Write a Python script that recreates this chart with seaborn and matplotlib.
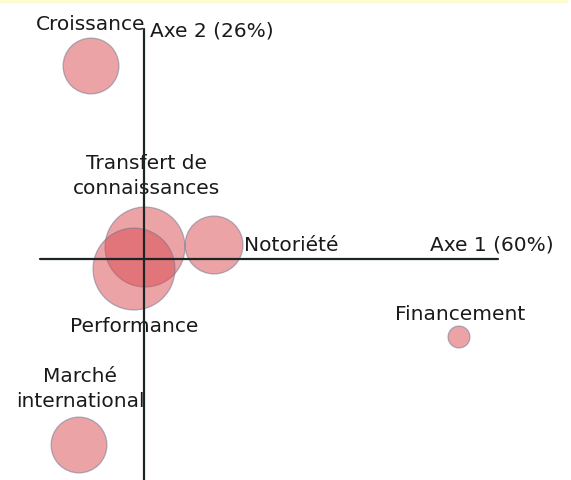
"""
Carte factorielle : position des objectifs sur les axes 1 et 2, taille des bulles = poids.
"""

import pandas as pd
import seaborn as sns
import matplotlib.pyplot as plt
from matplotlib.patches import Rectangle

# Données
objectifs = ['Croissance', 'Transfert de\nconnaissances', 'Notoriété',
             'Financement', 'Performance', 'Marché\ninternational']
axe1 = [-0.53, 0.01, 0.70, 3.15, -0.10, -0.65]
axe2 = [1.93, 0.12, 0.14, -0.78, -0.10, -1.86]
poids = [7.8, 16.0, 8.4, 1.2, 16.8, 7.8]

data = pd.DataFrame({'objectif': objectifs, 'axe1': axe1, 'axe2': axe2, 'poids': poids})

sns.set_style('white')
plt.rcParams['font.family'] = ['DejaVu Sans']

fig = plt.figure(figsize=(5.71, 4.81), dpi=100)
ax = fig.add_axes([0, 0, 1, 1])
ax.set_xlim(-1.44, 4.27)
ax.set_ylim(-2.21, 2.60)

# bande jaune en haut
fig.patches.append(Rectangle((0, 1 - 3 / 481), 567 / 571, 3 / 481, transform=fig.transFigure,
                             color='#fdfbd0', zorder=0))

# axes factoriels
ax.plot([-1.04, 3.54], [0, 0], color='#1c2626', lw=1.6, zorder=3)
ax.plot([0, 0], [-2.21, 2.30], color='#1c2626', lw=1.6, zorder=3)

smax = max(poids)
sns.scatterplot(data=data, x='axe1', y='axe2', size='poids', sizes=(0, smax * 207),
                size_norm=(0, smax), color='#d8484e', alpha=0.5, edgecolor='#66738c',
                linewidth=0.9, legend=False, ax=ax, zorder=2)

# étiquettes (décalage en pixels par rapport au centre de la bulle)
decalages = {
    'Croissance': (0, 43, 'center'),
    'Transfert de\nconnaissances': (1, 72, 'center'),
    'Notoriété': (30, 0, 'left'),
    'Financement': (1, 23, 'center'),
    'Performance': (0, -57, 'center'),
    'Marché\ninternational': (1, 57, 'center'),
}
for nom, x, y in zip(objectifs, axe1, axe2):
    dx, dy, ha = decalages[nom]
    ax.annotate(nom, (x, y), xytext=(dx, dy), textcoords='offset pixels',
                ha=ha, va='center', fontsize=14.5, color='#1a1a1a',
                linespacing=1.45, zorder=1)

ax.text(2.86, 0.15, 'Axe 1 (60%)', ha='left', va='center', fontsize=14.5, color='#1a1a1a')
ax.text(0.06, 2.29, 'Axe 2 (26%)', ha='left', va='center', fontsize=14.5, color='#1a1a1a')

ax.set_xlabel('')
ax.set_ylabel('')
ax.set_xticks([])
ax.set_yticks([])
sns.despine(ax=ax, left=True, bottom=True)

plt.savefig('out.png', dpi=100)
